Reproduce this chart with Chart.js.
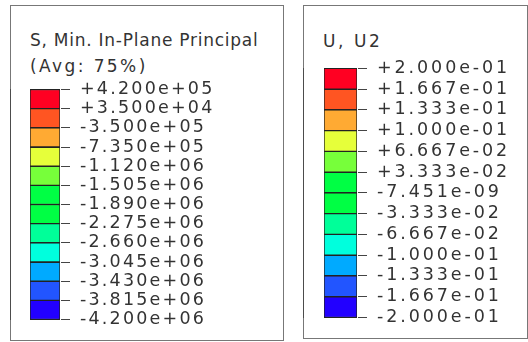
<!DOCTYPE html>
<html>
<head>
<meta charset="utf-8">
<script src="https://cdn.jsdelivr.net/npm/chart.js@4/dist/chart.umd.min.js"></script>
<style>
body{margin:0;background:#fff;width:528px;height:342px;position:relative;overflow:hidden;font-family:"DejaVu Sans",sans-serif;color:#333}
.box{position:absolute;border:1.5px solid #777;box-sizing:border-box}
.ttl{position:absolute;font-size:17px;line-height:26px;letter-spacing:0.75px;white-space:nowrap}
canvas{position:absolute}
</style>
</head>
<body>
<div class="box" style="left:10px;top:5px;width:274px;height:336px"></div>
<div class="box" style="left:303px;top:5px;width:225px;height:334px"></div>
<div class="ttl" style="left:30px;top:27px">S, Min. In-Plane Principal<br><span style="letter-spacing:2.4px">(Avg: 75%)</span></div>
<div class="ttl" style="left:323px;top:28px;letter-spacing:2.6px">U, U2</div>
<canvas id="stressChart" width="273" height="335" style="left:10px;top:5px"></canvas>
<canvas id="dispChart" width="224" height="333" style="left:303px;top:5px"></canvas>
<script>
// contour levels, top to bottom
const sLevels = [420000, 35000, -350000, -735000, -1120000, -1505000, -1890000, -2275000, -2660000, -3045000, -3430000, -3815000, -4200000]
const uLevels = [0.2, 0.1667, 0.1333, 0.1, 0.06667, 0.03333, -7.451e-9, -0.03333, -0.06667, -0.1, -0.1333, -0.1667, -0.2]
const bandColors = ['#ff0022', '#ff5522', '#ffaa33', '#e6ff3a', '#77ff3a', '#00ff44', '#00ff44', '#00ff99', '#00ffdd', '#00aaff', '#2255ff', '#2200ff']

// abaqus style number: +4.200e+05
function fmtE(v){
  const parts = v.toExponential(3).split('e')
  const exp = parts[1][0] + parts[1].slice(1).padStart(2,'0')
  return (v >= 0 ? '+' : '') + parts[0] + 'e' + exp
}

const spacing = {
  id:'spacing',
  beforeDraw(chart, args, opts){ chart.ctx.letterSpacing = opts.px + 'px' }
}

function legend(id, levels, pad, axisWidth, ls){
  const datasets = bandColors.map((c,i)=>({
    data:[[levels[i+1], levels[i]]],
    backgroundColor:c,
    borderColor:'#222',
    borderWidth:1,
    borderSkipped:false,
    grouped:false,
    barPercentage:1,
    categoryPercentage:1
  }))
  new Chart(document.getElementById(id),{
    type:'bar',
    data:{labels:[''], datasets:datasets},
    plugins:[spacing],
    options:{
      responsive:false,
      animation:false,
      layout:{padding:pad, autoPadding:false},
      plugins:{legend:{display:false}, tooltip:{enabled:false}, spacing:{px:ls}},
      scales:{
        x:{display:false},
        y:{
          position:'right',
          min:levels[levels.length-1],
          max:levels[0],
          afterBuildTicks:s=>{ s.ticks = levels.map(v=>({value:v})) },
          afterFit:s=>{ s.width = axisWidth },
          ticks:{autoSkip:false, padding:10, color:'#333', font:{family:'DejaVu Sans', size:17.5}, callback:v=>fmtE(v)},
          grid:{z:1, color:'#222', lineWidth:1, tickColor:'#444', tickLength:10},
          border:{display:true, color:'#222'}
        }
      }
    }
  })
}

legend('stressChart', sLevels, {left:20, right:0, top:84.5, bottom:18}, 223, 2.2)
legend('dispChart', uLevels, {left:21, right:0, top:63.3, bottom:19}, 170, 2.9)
</script>
</body>
</html>
